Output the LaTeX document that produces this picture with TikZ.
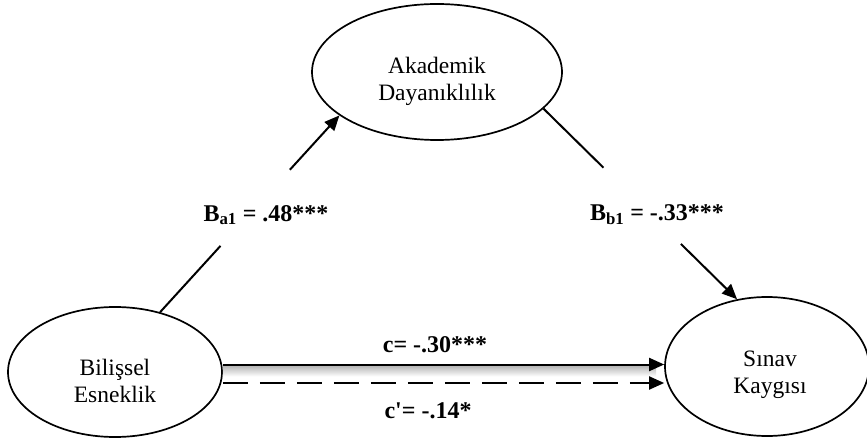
\documentclass[tikz,border=0pt]{standalone}
\usepackage{fontspec}
\setmainfont{Liberation Serif}
\usetikzlibrary{arrows.meta,positioning,shapes.geometric,calc}

\tikzset{
  latent/.style={ellipse,draw,line width=1.7pt,inner sep=0pt},
  vartext/.style={align=center,font=\fontsize{23.5}{27}\selectfont},
  coef/.style={font=\fontsize{24}{28}\selectfont\bfseries},
  conn/.style={line width=2pt},
  tip/.style={-{Triangle[length=15pt,width=13pt]}}
}

\begin{document}
\begin{tikzpicture}[x=1pt,y=-1pt]
  \useasboundingbox (0,0) rectangle (867,438);

  % variables
  \node[latent,minimum width=214pt,minimum height=130pt] (bil) at (115,372) {};
  \node[latent,minimum width=250pt,minimum height=136pt] (aka) at (437,72) {};
  \node[latent,minimum width=204pt,minimum height=139pt] (sin) at (767,366.5) {};
  \node[vartext] (bilt) at (115,381) {Bilişsel\\Esneklik};
  \node[vartext] (akat) at (437,81) {Akademik\\Dayanıklılık};
  \node[vartext] (sint) at (770,375) {Sınav\\Kaygısı};

  % a path
  \coordinate (a1s) at (bil.53);
  \coordinate (a1e) at (aka.204);
  \draw[conn] (a1s) -- ($(a1s)!0.337!(a1e)$);
  \draw[conn,tip] ($(a1s)!0.724!(a1e)$) -- (a1e);
  \node[coef] (ba1) at (266,215) {B\textsubscript{a1} = .48***};

  % b path
  \coordinate (b1s) at (aka.341);
  \coordinate (b1e) at (sin.114);
  \draw[conn] (b1s) -- ($(b1s)!0.31!(b1e)$);
  \draw[conn,tip] ($(b1s)!0.71!(b1e)$) -- (b1e);
  \node[coef] (bb1) at (657,215) {B\textsubscript{b1} = -.33***};

  % c and c'
  \coordinate (ytop) at (0,364.5);
  \coordinate (ybot) at (0,383);
  \shade[top color=black!28,bottom color=white]
    ($(bil.east |- ytop)+(0,1.5)$) rectangle ($(sin.west |- ytop)+(-8,12)$);
  \draw[conn,tip] (bil.east |- ytop) -- (sin.west |- ytop);
  \draw[conn,tip,dash pattern=on 25pt off 12pt] (bil.east |- ybot) -- (sin.west |- ybot);
  \node[coef] (cl) at (435,345) {c= -.30***};
  \node[coef] (cpl) at (428,411) {c\textquotesingle= -.14*};
\end{tikzpicture}
\end{document}
